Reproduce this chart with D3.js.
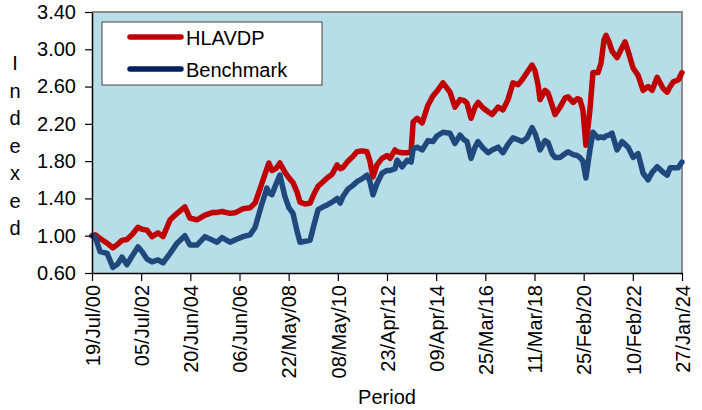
<!DOCTYPE html>
<html>
<head>
<meta charset="utf-8">
<script src="https://cdn.jsdelivr.net/npm/d3@7"></script>
<style>
  body { margin: 0; background: #fff; }
  text { font-family: Arial, "Liberation Sans", sans-serif; fill: #000; }
</style>
</head>
<body>
<div id="chart"></div>
<script>
// period in decimal years
const period = [
  2000.55, 2000.67, 2000.87, 2001.15, 2001.38, 2001.58, 2001.74, 2001.94, 2002.14, 2002.38,
  2002.54, 2002.74, 2002.94, 2003.18, 2003.38, 2003.66, 2003.94, 2004.25, 2004.45, 2004.73,
  2005.05, 2005.37, 2005.53, 2005.73, 2006.05, 2006.29, 2006.57, 2006.85, 2007.05, 2007.33,
  2007.52, 2007.60, 2007.72, 2007.88, 2008.04, 2008.24, 2008.40, 2008.56, 2008.72, 2008.84,
  2009.04, 2009.24, 2009.40, 2009.56, 2009.76, 2009.92, 2010.12, 2010.32, 2010.44, 2010.55,
  2010.75, 2010.95, 2011.11, 2011.31, 2011.51, 2011.63, 2011.75, 2011.91, 2012.11, 2012.31,
  2012.43, 2012.63, 2012.71, 2012.91, 2013.11, 2013.27, 2013.35, 2013.51, 2013.71, 2013.94,
  2014.14, 2014.30, 2014.54, 2014.82, 2015.02, 2015.22, 2015.38, 2015.50, 2015.66, 2015.82,
  2015.94, 2016.14, 2016.34, 2016.50, 2016.74, 2016.93, 2017.13, 2017.33, 2017.53, 2017.69,
  2017.89, 2018.09, 2018.21, 2018.33, 2018.41, 2018.61, 2018.73, 2018.89, 2019.01, 2019.21,
  2019.41, 2019.53, 2019.73, 2019.89, 2020.00, 2020.12, 2020.24, 2020.40, 2020.52, 2020.72,
  2020.84, 2020.96, 2021.04, 2021.16, 2021.28, 2021.48, 2021.68, 2021.80, 2021.92, 2022.12,
  2022.32, 2022.52, 2022.72, 2022.88, 2023.08, 2023.32, 2023.48, 2023.60, 2023.72, 2023.92,
  2024.07
];

const hlavdp = [
  1.00, 1.01, 0.97, 0.92, 0.87, 0.91, 0.95, 0.96, 1.01, 1.09,
  1.07, 1.06, 0.99, 1.03, 0.99, 1.17, 1.24, 1.31, 1.19, 1.17,
  1.22, 1.25, 1.25, 1.26, 1.24, 1.25, 1.29, 1.30, 1.35, 1.57,
  1.72, 1.78, 1.70, 1.72, 1.78, 1.68, 1.62, 1.57, 1.47, 1.36,
  1.34, 1.35, 1.45, 1.53, 1.58, 1.62, 1.66, 1.76, 1.72, 1.73,
  1.80, 1.85, 1.90, 1.91, 1.90, 1.80, 1.63, 1.76, 1.83, 1.86,
  1.83, 1.92, 1.90, 1.89, 1.89, 1.90, 2.22, 2.26, 2.21, 2.40,
  2.50, 2.55, 2.64, 2.54, 2.38, 2.46, 2.45, 2.42, 2.26, 2.38,
  2.43, 2.37, 2.33, 2.30, 2.38, 2.35, 2.46, 2.64, 2.62, 2.67,
  2.75, 2.83, 2.77, 2.62, 2.46, 2.56, 2.53, 2.40, 2.30, 2.38,
  2.48, 2.49, 2.43, 2.47, 2.46, 2.35, 1.97, 2.35, 2.75, 2.75,
  2.85, 3.10, 3.15, 3.08, 2.98, 2.91, 3.02, 3.08, 2.98, 2.80,
  2.72, 2.56, 2.60, 2.56, 2.70, 2.58, 2.54, 2.60, 2.65, 2.67,
  2.75
];

const benchmark = [
  1.00, 0.99, 0.83, 0.81, 0.66, 0.70, 0.77, 0.69, 0.78, 0.88,
  0.83, 0.75, 0.72, 0.74, 0.71, 0.81, 0.92, 1.00, 0.90, 0.90,
  0.99, 0.95, 0.93, 0.98, 0.93, 0.96, 0.99, 1.01, 1.09, 1.35,
  1.51, 1.46, 1.44, 1.55, 1.65, 1.42, 1.30, 1.24, 1.05, 0.93,
  0.94, 0.95, 1.12, 1.28, 1.31, 1.33, 1.36, 1.40, 1.35, 1.42,
  1.50, 1.54, 1.58, 1.61, 1.65, 1.58, 1.44, 1.56, 1.67, 1.70,
  1.70, 1.72, 1.81, 1.74, 1.81, 1.79, 1.93, 1.95, 1.92, 2.02,
  2.01, 2.07, 2.11, 2.10, 1.99, 2.08, 2.03, 2.01, 1.83, 1.95,
  2.01, 1.94, 1.89, 1.92, 1.95, 1.89, 1.98, 2.05, 2.03, 2.01,
  2.05, 2.16, 2.10, 2.00, 1.92, 2.02, 2.00, 1.88, 1.84, 1.84,
  1.88, 1.90, 1.87, 1.86, 1.84, 1.80, 1.62, 1.92, 2.11, 2.05,
  2.06, 2.05, 2.07, 2.08, 2.10, 1.92, 2.01, 1.98, 1.95, 1.84,
  1.88, 1.67, 1.60, 1.68, 1.74, 1.68, 1.65, 1.73, 1.73, 1.73,
  1.79
];

const xTickDates = [
  "2000-07-19", "2002-07-05", "2004-06-20", "2006-06-06", "2008-05-22", "2010-05-08", "2012-04-23",
  "2014-04-09", "2016-03-25", "2018-03-11", "2020-02-25", "2022-02-10", "2024-01-27"
];
const yTicks = [0.60, 1.00, 1.40, 1.80, 2.20, 2.60, 3.00, 3.40];
const seriesNames = ["HLAVDP", "Benchmark"];

function init() {
    const width = 702, height = 410;
    const left = 92, right = 682, top = 12, bottom = 273;

    const parse = d3.timeParse("%Y-%m-%d");
    const fmt = d3.timeFormat("%d/%b/%y");

    // decimal year -> Date
    function fromYear(y) {
        const yr = Math.floor(y);
        const a = new Date(yr, 0, 1), b = new Date(yr + 1, 0, 1);
        return new Date(+a + (y - yr) * (b - a));
    }

    const svg = d3.select("#chart").append("svg")
                  .attr("width", width)
                  .attr("height", height);

    const x = d3.scaleTime()
                .domain([parse(xTickDates[0]), parse(xTickDates[xTickDates.length - 1])])
                .range([left, right]);
    const y = d3.scaleLinear().domain([0.6, 3.4]).range([bottom, top]);

    // plot background
    svg.append("rect")
       .attr("x", left).attr("y", top)
       .attr("width", right - left).attr("height", bottom - top)
       .attr("fill", "#B7DDE8");

    // gray top/right border
    svg.append("path")
       .attr("d", `M${left},${top}H${right}V${bottom}`)
       .attr("fill", "none")
       .attr("stroke", "#8c8c8c")
       .attr("stroke-width", 2);

    // lines
    const series = [
        { name: seriesNames[0], values: hlavdp, color: "#C00000", legend: "#C00000" },
        { name: seriesNames[1], values: benchmark, color: "#1F497D", legend: "#002060" }
    ];

    const line = d3.line()
                   .x((d, i) => x(fromYear(period[i])))
                   .y(d => y(d));

    svg.selectAll(".series")
       .data(series)
       .enter()
       .append("path")
       .attr("class", "series")
       .attr("d", d => line(d.values))
       .attr("fill", "none")
       .attr("stroke", d => d.color)
       .attr("stroke-width", 5.5)
       .attr("stroke-linejoin", "round")
       .attr("stroke-linecap", "round");

    // y axis
    const yAxis = svg.append("g")
                     .attr("transform", `translate(${left},0)`)
                     .call(d3.axisLeft(y).tickValues(yTicks).tickFormat(d3.format(".2f"))
                             .tickSize(7).tickSizeOuter(0).tickPadding(9));
    yAxis.select(".domain").attr("stroke", "#000").attr("stroke-width", 1.5);
    yAxis.selectAll(".tick line").attr("stroke", "#000").attr("stroke-width", 1.2);
    yAxis.selectAll("text")
         .style("font-size", "20px")
         .style("font-family", "Arial, 'Liberation Sans', sans-serif")
         .attr("fill", "#000");

    // x axis
    const xAxis = svg.append("g")
                     .attr("transform", `translate(0,${bottom})`)
                     .call(d3.axisBottom(x).tickValues(xTickDates.map(parse)).tickFormat(fmt)
                             .tickSize(8).tickSizeOuter(0));
    xAxis.select(".domain").attr("stroke", "#000").attr("stroke-width", 1.5);
    xAxis.selectAll(".tick line").attr("stroke", "#000").attr("stroke-width", 1.2);
    xAxis.selectAll("text")
         .attr("transform", "rotate(-90)")
         .attr("x", -12)
         .attr("y", 0)
         .attr("dy", "0.36em")
         .attr("text-anchor", "end")
         .attr("fill", "#000")
         .style("font-size", "20px")
         .style("font-family", "Arial, 'Liberation Sans', sans-serif");

    // axis titles
    svg.append("text")
       .attr("x", 387).attr("y", 404)
       .attr("text-anchor", "middle")
       .style("font-size", "20px")
       .text("Period");

    const yTitle = svg.append("text")
                      .attr("text-anchor", "middle")
                      .style("font-size", "20px");
    "Indexed".split("").forEach((ch, i) => {
        yTitle.append("tspan")
              .attr("x", 15)
              .attr("y", 70 + i * 27.5)
              .text(ch);
    });

    // legend
    const legend = svg.append("g");
    legend.append("rect")
          .attr("x", 102).attr("y", 22)
          .attr("width", 220).attr("height", 63)
          .attr("fill", "#fff")
          .attr("stroke", "#444")
          .attr("stroke-width", 1);

    series.forEach((s, i) => {
        const ly = 37 + i * 32;
        legend.append("line")
              .attr("x1", 130).attr("x2", 181)
              .attr("y1", ly).attr("y2", ly)
              .attr("stroke", s.legend)
              .attr("stroke-width", 5.5)
              .attr("stroke-linecap", "round");
        legend.append("text")
              .attr("x", 186).attr("y", ly + 7.5)
              .style("font-size", "20px")
              .text(s.name);
    });
}

window.onload = init;
</script>
</body>
</html>
